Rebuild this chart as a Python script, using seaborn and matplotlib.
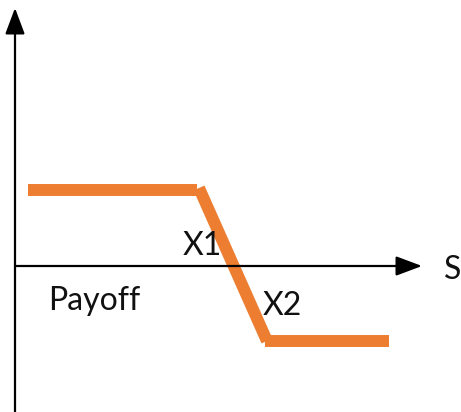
import matplotlib
matplotlib.use("Agg")
import matplotlib.pyplot as plt
import seaborn as sns
import pandas as pd

# payoff diagram, three straight pieces (S axis vs payoff)
seg_id = [0, 0, 1, 1, 2, 2]
s_vals = [13, 182, 184, 252, 250, 374]
payoff = [76, 76, 78, -75, -75, -75]

labels = ["X1", "X2", "Payoff", "S"]
label_x = [168, 248, 33, 429]
label_y = [11, -49, -44, -4]

orange = "#ED7D31"

sns.set_theme(style="white")
plt.rcParams["font.family"] = ["Lato", "DejaVu Sans"]

df = pd.DataFrame({"seg": seg_id, "S": s_vals, "payoff": payoff})

fig = plt.figure(figsize=(4.61, 4.12), dpi=100)
ax = fig.add_axes([0, 0, 1, 1])
ax.set_xlim(-15, 446)
ax.set_ylim(-146, 266)

sns.lineplot(data=df, x="S", y="payoff", units="seg", estimator=None, sort=False,
             color=orange, linewidth=8.6, solid_capstyle="butt", ax=ax)

# axes drawn as arrows
arrow = dict(arrowstyle="-|>,head_length=0.8,head_width=0.3", color="black",
             lw=1.6, mutation_scale=20, shrinkA=0, shrinkB=0)
ax.annotate("", xy=(0, 258), xytext=(0, -146), arrowprops=arrow)
ax.annotate("", xy=(407, 0), xytext=(0, 0), arrowprops=arrow)

for t, x, y in zip(labels, label_x, label_y):
    va = "center" if t == "S" else "baseline"
    ax.text(x, y, t, fontsize=23, color="#111111", ha="left", va=va)

ax.set_axis_off()
fig.savefig("out.png", dpi=100)
